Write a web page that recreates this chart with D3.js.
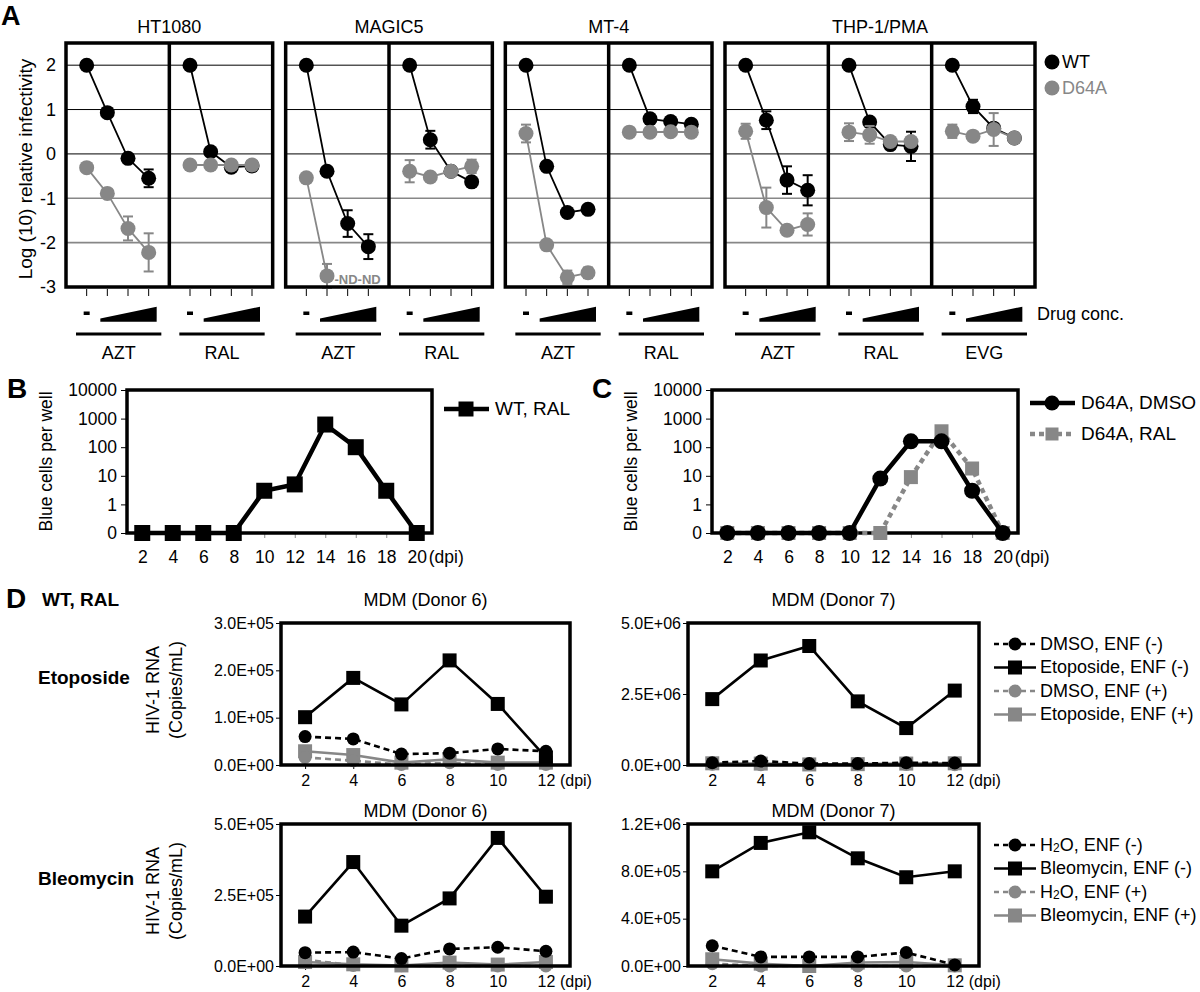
<!DOCTYPE html>
<html><head><meta charset="utf-8">
<script src="https://cdn.jsdelivr.net/npm/d3@7"></script>
<style>
body{margin:0;background:#fff}
svg{display:block}
text{font-family:"Liberation Sans",Arial,Helvetica,sans-serif;fill:#000}
</style>
</head><body>
<svg id="chart" width="1200" height="992"></svg>
<script>
// ================= DATA =================
// ---- Panel A ----
const cellLines = ["HT1080", "MAGIC5", "MT-4", "THP-1/PMA"];
const drugs = [["AZT", "RAL"], ["AZT", "RAL"], ["AZT", "RAL"], ["AZT", "RAL", "EVG"]];
const yTicksA = [2, 1, 0, -1, -2, -3];
const legendA = ["WT", "D64A"];
// one row per sub-panel (HT1080 AZT, HT1080 RAL, MAGIC5 AZT, ...), 4 drug concentrations
const wtVals = [
  [2, 0.93, -0.1, -0.55], [2, 0.05, -0.3, -0.27],
  [2, -0.39, -1.57, -2.09], [2, 0.32, -0.39, -0.63],
  [2, -0.28, -1.32, -1.25], [2, 0.79, 0.73, 0.67],
  [2, 0.76, -0.59, -0.82], [2, 0.72, 0.21, 0.17], [2, 1.07, 0.58, 0.36]
];
const wtErr = [
  [0, 0, 0, 0.2], [0, 0, 0.08, 0],
  [0, 0, 0.3, 0.28], [0, 0.2, 0.1, 0],
  [0, 0, 0, 0], [0, 0, 0, 0],
  [0, 0.2, 0.31, 0.34], [0, 0, 0.1, 0.33], [0, 0.15, 0, 0]
];
const d64aVals = [
  [-0.31, -0.89, -1.68, -2.22], [-0.25, -0.25, -0.25, -0.25],
  [-0.54, -2.75, null, null], [-0.39, -0.52, -0.39, -0.28],
  [0.46, -2.05, -2.78, -2.68], [0.49, 0.49, 0.5, 0.49],
  [0.51, -1.21, -1.72, -1.59], [0.49, 0.43, 0.28, 0.28], [0.51, 0.4, 0.55, 0.36]
];
const d64aErr = [
  [0, 0, 0.27, 0.43], [0, 0, 0, 0],
  [0, 0.27, 0, 0], [0.25, 0, 0.1, 0.15],
  [0.2, 0, 0.15, 0.12], [0, 0, 0, 0],
  [0.17, 0.45, 0, 0.25], [0.2, 0.2, 0, 0], [0.15, 0, 0.37, 0]
];

// ---- Panels B & C ----
const dpiBC = [2, 4, 6, 8, 10, 12, 14, 16, 18, 20];
const yTicksBC = [0, 1, 10, 100, 1000, 10000];
const wtRal = [0, 0, 0, 0, 3, 5, 620, 100, 3, 0];
const d64aDmso = [0, 0, 0, 0, 0, 8, 160, 160, 3, 0];
const d64aRal = [0, 0, 0, 0, 0, 0, 9, 360, 18, 0];

// ---- Panel D ----
const dpiD = [2, 4, 6, 8, 10, 12];
const legendEto = ["DMSO, ENF (-)", "Etoposide, ENF (-)", "DMSO, ENF (+)", "Etoposide, ENF (+)"];
const legendBleo = ["H2O, ENF (-)", "Bleomycin, ENF (-)", "H2O, ENF (+)", "Bleomycin, ENF (+)"];
// Etoposide, donor 6
const eto6DmsoNeg = [60000, 55000, 23000, 25000, 34000, 29000];
const eto6EtoNeg = [101000, 184000, 128000, 221000, 129000, 16000];
const eto6DmsoPos = [16000, 9000, 1000, 5000, 1000, 1000];
const eto6EtoPos = [29000, 21000, 5000, 12000, 5000, 5000];
// Etoposide, donor 7
const eto7DmsoNeg = [80000, 140000, 50000, 50000, 80000, 70000];
const eto7EtoNeg = [2320000, 3680000, 4190000, 2240000, 1300000, 2620000];
const eto7DmsoPos = [30000, 10000, 20000, 10000, 20000, 10000];
const eto7EtoPos = [60000, 50000, 20000, 30000, 50000, 60000];
// Bleomycin, donor 6
const bleo6H2oNeg = [47000, 49000, 26000, 60000, 66000, 52000];
const bleo6BleoNeg = [174000, 366000, 142000, 238000, 451000, 244000];
const bleo6H2oPos = [23000, 2000, 1000, 0, 0, 0];
const bleo6BleoPos = [14000, 6000, 2000, 12000, 5000, 14000];
// Bleomycin, donor 7
const bleo7H2oNeg = [171000, 77000, 77000, 77000, 114000, 9000];
const bleo7BleoNeg = [800000, 1040000, 1130000, 910000, 750000, 800000];
const bleo7H2oPos = [20000, 0, 0, 0, 0, 0];
const bleo7BleoPos = [57000, 20000, 0, 29000, 34000, 6000];
const yTicksD = [[0, 1e5, 2e5, 3e5], [0, 2.5e6, 5e6], [0, 2.5e5, 5e5], [0, 4e5, 8e5, 1.2e6]];

// ================= DRAWING =================
const BLACK = "#000", GRAY = "#878787";
const svg = d3.select("#chart");
svg.append("rect").attr("width", 1200).attr("height", 992).attr("fill", "#fff");

function label(g, x, y, s, o = {}) {
  return g.append("text").attr("x", x).attr("y", y)
    .attr("font-size", o.size || 18)
    .attr("font-weight", o.bold ? "bold" : null)
    .attr("text-anchor", o.anchor || "start")
    .attr("dominant-baseline", "middle")
    .style("fill", o.color || BLACK)
    .text(s);
}
function marker(g, type, x, y, size, color) {
  if (type === "square") g.append("rect").attr("x", x - size / 2).attr("y", y - size / 2)
    .attr("width", size).attr("height", size).attr("fill", color);
  else g.append("circle").attr("cx", x).attr("cy", y).attr("r", size / 2).attr("fill", color);
}

// ---------- Panel A ----------
const A = {left: 66, right: 1035, top: 43, bottom: 287, gap: 13};
const nSub = d3.sum(drugs, d => d.length);
const subW = (A.right - A.left - A.gap * (drugs.length - 1)) / nSub;
const yA = d3.scaleLinear().domain([-3, 2.5]).range([A.bottom, A.top]);
const gA = svg.append("g");
label(gA, 1, 18, "A", {size: 27, bold: true});

gA.append("g").attr("transform", `translate(${A.left},0)`)
  .call(d3.axisLeft(yA).tickValues(yTicksA).tickSize(0).tickPadding(10).tickFormat(d => String(d)))
  .call(g => g.select(".domain").remove())
  .call(g => g.selectAll("text").attr("font-size", 18).style("font-family", null));
gA.append("text").attr("transform", `translate(27,${(A.top + A.bottom) / 2 + 4}) rotate(-90)`)
  .attr("text-anchor", "middle").attr("dominant-baseline", "middle").attr("font-size", 19)
  .text("Log (10) relative infectivity");

function drawSeries(g, xs, vals, errs, color, r) {
  const pts = vals.map((v, i) => ({i, v, e: errs[i]})).filter(d => d.v !== null);
  g.append("path").datum(pts)
    .attr("d", d3.line().x(d => xs(d.i)).y(d => yA(d.v)))
    .attr("fill", "none").attr("stroke", color).attr("stroke-width", 1.8);
  pts.filter(d => d.e > 0).forEach(d => {
    const x = xs(d.i);
    g.append("line").attr("x1", x).attr("x2", x).attr("y1", yA(d.v - d.e)).attr("y2", yA(d.v + d.e))
      .attr("stroke", color).attr("stroke-width", 2);
    [d.v - d.e, d.v + d.e].forEach(t => g.append("line").attr("x1", x - 5).attr("x2", x + 5)
      .attr("y1", yA(t)).attr("y2", yA(t)).attr("stroke", color).attr("stroke-width", 2));
  });
  g.selectAll(null).data(pts).enter().append("circle")
    .attr("cx", d => xs(d.i)).attr("cy", d => yA(d.v)).attr("r", r).attr("fill", color);
  const nulls = vals.filter(v => v === null).length;
  if (nulls > 0) {
    const last = pts[pts.length - 1];
    g.append("text").attr("x", xs(last.i) + r).attr("y", yA(last.v) + 5)
      .attr("font-size", 13).attr("font-weight", "bold").attr("dominant-baseline", "middle")
      .style("fill", color).text("-" + Array(nulls).fill("ND").join("-"));
  }
}

let k = 0, gx = A.left;
drugs.forEach((dl, gi) => {
  const gw = subW * dl.length;
  const G = gA.append("g");
  yTicksA.filter(t => t > -3).forEach(t => G.append("line")
    .attr("x1", gx).attr("x2", gx + gw).attr("y1", yA(t)).attr("y2", yA(t))
    .attr("stroke", t >= 0 ? BLACK : GRAY).attr("stroke-width", t >= 0 ? 1 : 1.6));
  label(G, gx + gw / 2, 28, cellLines[gi], {anchor: "middle"});
  dl.forEach((drug, j) => {
    const x0 = gx + j * subW;
    const xs = d3.scaleLinear().domain([-1, 4]).range([x0, x0 + subW]);
    drawSeries(G, xs, wtVals[k], wtErr[k], BLACK, 7.5);
    drawSeries(G, xs, d64aVals[k], d64aErr[k], GRAY, 7.5);
    [0, 1, 2, 3].forEach(i => G.append("line").attr("x1", xs(i)).attr("x2", xs(i))
      .attr("y1", A.bottom + 2).attr("y2", A.bottom + 9).attr("stroke", BLACK).attr("stroke-width", 1));
    // drug concentration marks
    G.append("rect").attr("x", xs(0) - 3).attr("y", 311.5).attr("width", 6).attr("height", 3.5).attr("fill", BLACK);
    const tx0 = xs(1) - 7, tx1 = xs(3) + 8;
    G.append("path").attr("d", `M${tx0},318.5 L${tx1},306.7 L${tx1},321.7 L${tx0},321.7 Z`).attr("fill", BLACK);
    G.append("line").attr("x1", x0 + 10).attr("x2", x0 + subW - 8).attr("y1", 334).attr("y2", 334)
      .attr("stroke", BLACK).attr("stroke-width", 3);
    label(G, x0 + subW / 2 + 1, 354, drug, {anchor: "middle"});
    k++;
  });
  G.append("rect").attr("x", gx).attr("y", A.top).attr("width", gw).attr("height", A.bottom - A.top)
    .attr("fill", "none").attr("stroke", BLACK).attr("stroke-width", 3.5);
  for (let j = 1; j < dl.length; j++) G.append("line").attr("x1", gx + j * subW).attr("x2", gx + j * subW)
    .attr("y1", A.top).attr("y2", A.bottom).attr("stroke", BLACK).attr("stroke-width", 3.5);
  gx += gw + A.gap;
});
label(gA, A.right + 2, 315, "Drug conc.");
legendA.forEach((s, i) => {
  const c = i === 0 ? BLACK : GRAY;
  gA.append("circle").attr("cx", A.right + 17).attr("cy", 62 + i * 26).attr("r", 7.5).attr("fill", c);
  label(gA, A.right + 27, 63 + i * 26, s, {color: c});
});

// ---------- Panels B & C ----------
const logPos = v => v === 0 ? 0 : Math.log10(v) + 1;
function blueChart(frame, letter, series, drawOrder, legendYs) {
  const g = svg.append("g");
  const x = d3.scaleLinear().domain([1, 21]).range([frame.left, frame.right]);
  const y = d3.scaleLinear().domain([0, 5]).range([frame.bottom, frame.top]);
  label(g, frame.left - 120, frame.top + 1, letter, {size: 28, bold: true});
  g.append("g").attr("transform", `translate(${frame.left},0)`)
    .call(d3.axisLeft(y).tickValues(yTicksBC.map(logPos)).tickSize(6).tickPadding(4)
      .tickFormat((d, i) => yTicksBC[i]))
    .call(a => a.select(".domain").remove())
    .call(a => a.selectAll("text").attr("font-size", 17.5).style("font-family", null));
  g.append("g").attr("transform", `translate(0,${frame.bottom})`)
    .call(d3.axisBottom(x).tickValues(dpiBC).tickSize(5).tickPadding(13).tickFormat(d => String(d)))
    .call(a => a.select(".domain").remove())
    .call(a => a.selectAll("line").attr("stroke", GRAY))
    .call(a => a.selectAll("text").attr("font-size", 17.5).style("font-family", null));
  label(g, x(20) + 12, frame.bottom + 25, "(dpi)", {size: 17.5});
  g.append("text").attr("transform", `translate(${frame.left - 80},${(frame.top + frame.bottom) / 2}) rotate(-90)`)
    .attr("text-anchor", "middle").attr("dominant-baseline", "middle").attr("font-size", 17.5)
    .text("Blue cells per well");
  g.append("rect").attr("x", frame.left).attr("y", frame.top).attr("width", frame.right - frame.left)
    .attr("height", frame.bottom - frame.top).attr("fill", "none").attr("stroke", BLACK).attr("stroke-width", 3.5);
  drawOrder.forEach(si => {
    const s = series[si];
    g.append("path").datum(s.vals)
      .attr("d", d3.line().x((d, i) => x(dpiBC[i])).y(d => y(logPos(d))))
      .attr("fill", "none").attr("stroke", s.color).attr("stroke-width", 4.5)
      .attr("stroke-dasharray", s.dash || null);
    s.vals.forEach((v, i) => marker(g, s.marker, x(dpiBC[i]), y(logPos(v)), s.size, s.color));
  });
  series.forEach((s, si) => {
    const ly = legendYs[si];
    g.append("line").attr("x1", frame.right + 12).attr("x2", frame.right + 57).attr("y1", ly).attr("y2", ly)
      .attr("stroke", s.color).attr("stroke-width", 4.5).attr("stroke-dasharray", s.dash ? "5,4" : null);
    marker(g, s.marker, frame.right + 34, ly, s.size - 1, s.color);
    label(g, frame.right + 63, ly + 1, s.name, {size: 19});
  });
}
blueChart({left: 127, right: 432, top: 390, bottom: 533}, "B",
  [{name: "WT, RAL", vals: wtRal, color: BLACK, marker: "square", size: 16}], [0], [409]);
blueChart({left: 712, right: 1018, top: 390, bottom: 533}, "C",
  [{name: "D64A, DMSO", vals: d64aDmso, color: BLACK, marker: "circle", size: 16},
   {name: "D64A, RAL", vals: d64aRal, color: GRAY, marker: "square", size: 14, dash: "5,4"}],
  [1, 0], [403, 434]);

// ---------- Panel D ----------
const fmtE = v => v.toExponential(1).toUpperCase().replace(/E([+-])(\d)$/, "E$10$2");
const seriesStyle = [
  {color: BLACK, dash: "6,4", marker: "circle"},
  {color: BLACK, dash: null, marker: "square"},
  {color: GRAY, dash: "6,4", marker: "circle"},
  {color: GRAY, dash: null, marker: "square"}
];
function mdmChart(frame, title, titleY, ticks, data, legend, rowLabel) {
  const g = svg.append("g");
  const x = d3.scaleLinear().domain([1, 13]).range([frame.left, frame.right]);
  const y = d3.scaleLinear().domain([0, ticks[ticks.length - 1]]).range([frame.bottom, frame.top]);
  label(g, (frame.left + frame.right) / 2, titleY, title, {anchor: "middle"});
  g.append("g").attr("transform", `translate(${frame.left},0)`)
    .call(d3.axisLeft(y).tickValues(ticks).tickSize(5).tickPadding(2).tickFormat(fmtE))
    .call(a => a.select(".domain").remove())
    .call(a => a.selectAll("text").attr("font-size", 16).style("font-family", null));
  g.append("g").attr("transform", `translate(0,${frame.bottom})`)
    .call(d3.axisBottom(x).tickValues(dpiD).tickSize(4).tickPadding(6).tickFormat(d => String(d)))
    .call(a => a.select(".domain").remove())
    .call(a => a.selectAll("text").attr("font-size", 16).style("font-family", null));
  label(g, x(12) + 14, frame.bottom + 17, "(dpi)", {size: 16});
  if (rowLabel) {
    const cy = (frame.top + frame.bottom) / 2;
    const t = g.append("text").attr("transform", `translate(${frame.left - 116},${cy - 4}) rotate(-90)`)
      .attr("text-anchor", "middle").attr("dominant-baseline", "middle").attr("font-size", 18);
    t.append("tspan").attr("x", 0).attr("dy", "-0.6em").text("HIV-1 RNA");
    t.append("tspan").attr("x", 0).attr("dy", "1.25em").text("(Copies/mL)");
    label(g, 38, cy - 15, rowLabel, {size: 19, bold: true});
  }
  [3, 2, 0, 1].forEach(si => {
    const st = seriesStyle[si];
    g.append("path").datum(data[si])
      .attr("d", d3.line().x((d, i) => x(dpiD[i])).y(d => y(d)))
      .attr("fill", "none").attr("stroke", st.color).attr("stroke-width", 2.6)
      .attr("stroke-dasharray", st.dash);
    data[si].forEach((v, i) => marker(g, st.marker, x(dpiD[i]), y(v), st.marker === "square" ? 14 : 13, st.color));
  });
  g.append("rect").attr("x", frame.left).attr("y", frame.top).attr("width", frame.right - frame.left)
    .attr("height", frame.bottom - frame.top).attr("fill", "none").attr("stroke", BLACK).attr("stroke-width", 3.5);
  if (legend) legend.forEach((s, i) => {
    const st = seriesStyle[i];
    const ly = frame.top + 21 + i * 23.5;
    g.append("line").attr("x1", frame.right + 15).attr("x2", frame.right + 57).attr("y1", ly).attr("y2", ly)
      .attr("stroke", st.color).attr("stroke-width", 2.6).attr("stroke-dasharray", st.dash ? "5,4" : null);
    marker(g, st.marker, frame.right + 36, ly, st.marker === "square" ? 14 : 13, st.color);
    const t = g.append("text").attr("x", frame.right + 61).attr("y", ly + 1).attr("font-size", 18)
      .attr("dominant-baseline", "middle");
    const m = s.match(/^H2O(.*)$/);
    if (m) {
      t.append("tspan").text("H");
      t.append("tspan").attr("font-size", 12).attr("dy", 3).text("2");
      t.append("tspan").attr("dy", -3).text("O" + m[1]);
    } else t.text(s);
  });
}
const gD = svg.append("g");
label(gD, 6, 601, "D", {size: 28, bold: true});
label(gD, 42, 601, "WT, RAL", {size: 19, bold: true});
mdmChart({left: 281, right: 570, top: 623, bottom: 765}, "MDM (Donor 6)", 601, yTicksD[0],
  [eto6DmsoNeg, eto6EtoNeg, eto6DmsoPos, eto6EtoPos], null, "Etoposide");
mdmChart({left: 688, right: 979, top: 623, bottom: 765}, "MDM (Donor 7)", 601, yTicksD[1],
  [eto7DmsoNeg, eto7EtoNeg, eto7DmsoPos, eto7EtoPos], legendEto, null);
mdmChart({left: 281, right: 570, top: 824, bottom: 966}, "MDM (Donor 6)", 812, yTicksD[2],
  [bleo6H2oNeg, bleo6BleoNeg, bleo6H2oPos, bleo6BleoPos], null, "Bleomycin");
mdmChart({left: 688, right: 979, top: 824, bottom: 966}, "MDM (Donor 7)", 812, yTicksD[3],
  [bleo7H2oNeg, bleo7BleoNeg, bleo7H2oPos, bleo7BleoPos], legendBleo, null);
</script>
</body></html>
